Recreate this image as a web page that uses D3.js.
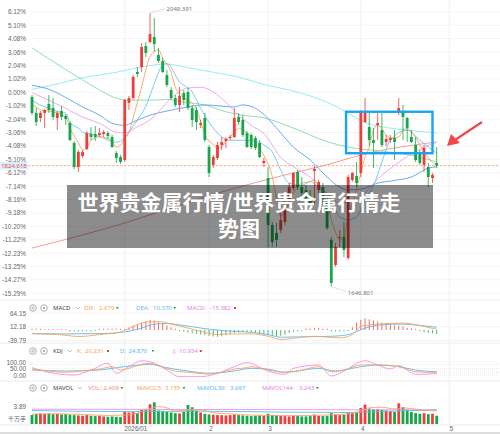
<!DOCTYPE html>
<html><head><meta charset="utf-8">
<script src="https://cdn.jsdelivr.net/npm/d3@7"></script>
<style>
body{margin:0;background:#fff}
svg{display:block;font-family:"Noto Sans","Noto Sans CJK SC",sans-serif}
</style>
</head><body>
<svg id="chart" width="500" height="434"></svg>
<script>
// ---------------- DATA ----------------
const basePrice = 1932.6;
const lastPrice = 1824.618;
const highLabel = "2049.391", lowLabel = "1646.801";
const highIdx = 28, lowIdx = 71;
const pctTicks = [6.12,5.10,4.08,3.06,2.04,1.02,0.00,-1.02,-2.04,-3.06,-4.08,-5.10,-6.12,-7.14,-8.16,-9.18,-10.20,-11.22,-12.23,-13.25,-14.27,-15.29];
const monthIdx = [22,42,56,78,99];
const monthLabels = ["2026/01","2","3","4","5"];
// highlighted range (candle index span, price span)
const boxIdx = [74.5, 95];
const boxPrice = [1843, 1904];

const openP = [1925.7,1902.2,1894.8,1902.2,1915.4,1909.5,1894.8,1905.1,1897.7,1887.4,
1858.0,1822.7,1838.9,1849.2,1871.3,1871.3,1869.8,1871.3,1872.7,1866.9,
1843.3,1837.4,1833.0,1916.9,1924.2,1962.5,1969.8,2000.7,2006.6,2013.9,
1987.5,1978.6,1958.0,1936.0,1924.2,1913.9,1931.6,1933.0,1909.5,1906.6,
1884.5,1894.8,1852.1,1825.7,1836.0,1855.1,1861.0,1865.4,1866.9,1896.3,
1891.9,1872.7,1869.8,1865.4,1858.0,1828.6,1806.6,1737.4,1725.7,1730.1,
1741.8,1774.2,1791.8,1815.4,1793.3,1788.9,1780.1,1816.8,1788.9,1793.3,
1769.8,1715.4,1678.6,1718.3,1719.8,1688.9,1803.6,1809.5,1813.9,1888.9,
1881.6,1862.4,1884.5,1877.1,1859.5,1862.4,1865.4,1902.2,1903.6,1894.8,
1866.9,1855.1,1843.3,1825.7,1822.7,1806.6,1828.6];
const closeP = [1902.2,1888.9,1902.2,1906.6,1906.6,1896.3,1902.2,1896.3,1893.3,1862.4,
1822.7,1844.8,1844.8,1872.7,1866.9,1866.9,1872.7,1874.2,1868.3,1852.1,
1836.0,1830.1,1921.3,1924.2,1955.1,1959.5,1999.2,1990.4,2018.3,2003.6,
1978.6,1962.5,1943.3,1924.2,1913.9,1927.2,1921.3,1909.5,1891.9,1888.9,
1887.4,1862.4,1813.9,1837.4,1855.1,1859.5,1863.9,1866.9,1894.8,1888.9,
1869.8,1852.1,1852.1,1850.7,1837.4,1831.6,1737.4,1712.4,1715.4,1744.8,
1765.4,1793.3,1813.9,1793.3,1784.5,1774.2,1769.8,1819.8,1800.7,1774.2,
1733.0,1652.1,1705.1,1719.8,1700.7,1808.0,1813.9,1799.2,1903.6,1903.6,
1862.4,1858.0,1887.4,1855.1,1863.9,1865.4,1859.5,1909.5,1896.3,1880.1,
1859.5,1833.0,1828.6,1850.7,1808.0,1811.0,1824.618];
const highP = [1928.6,1909.5,1905.1,1908.0,1928.6,1924.2,1905.1,1912.4,1900.7,1890.4,
1861.0,1847.7,1847.7,1875.7,1881.6,1883.0,1880.1,1877.1,1875.7,1869.8,
1846.3,1840.4,1922.7,1927.2,1958.0,1969.8,2005.1,2006.6,2049.391,2041.9,
1997.8,1983.0,1965.4,1940.4,1928.6,1940.4,1936.0,1938.9,1913.9,1911.0,
1891.9,1902.2,1855.1,1840.4,1859.5,1866.9,1866.9,1869.8,1909.5,1902.2,
1899.2,1875.7,1872.7,1868.3,1862.4,1836.0,1822.7,1741.8,1740.4,1755.1,
1778.6,1799.2,1815.4,1818.3,1808.0,1796.3,1788.9,1824.2,1803.6,1799.2,
1777.1,1719.8,1711.0,1730.1,1741.8,1811.0,1815.4,1830.1,1906.6,1924.2,
1902.2,1880.1,1902.2,1902.2,1869.8,1869.8,1877.1,1924.2,1913.9,1896.3,
1877.1,1866.9,1847.7,1855.1,1828.6,1813.9,1852.1];
const lowP = [1899.2,1883.0,1888.9,1880.1,1902.2,1891.9,1877.1,1891.9,1884.5,1861.0,
1819.8,1815.4,1836.0,1847.7,1862.4,1861.0,1866.9,1866.9,1863.9,1850.7,
1828.6,1827.1,1830.1,1906.6,1921.3,1955.1,1962.5,1984.5,2005.1,1991.9,
1975.7,1961.0,1940.4,1921.3,1911.0,1903.6,1913.9,1906.6,1881.6,1877.1,
1880.1,1859.5,1808.0,1821.3,1833.0,1847.7,1850.7,1862.4,1865.4,1884.5,
1866.9,1850.7,1849.2,1847.7,1836.0,1822.7,1705.1,1705.1,1705.1,1725.7,
1737.4,1763.9,1788.9,1788.9,1774.2,1766.8,1762.4,1766.8,1784.5,1766.8,
1730.1,1646.801,1675.7,1705.1,1690.4,1686.0,1800.7,1793.3,1808.0,1887.4,
1853.6,1821.3,1862.4,1852.1,1853.6,1858.0,1833.0,1899.2,1862.4,1859.5,
1858.0,1830.1,1825.7,1815.4,1793.3,1799.2,1821.3];
const volume = [2.52,2.7,2.75,2.7,2.75,2.65,2.7,2.6,2.65,2.55,
2.5,2.45,2.4,2.5,2.4,2.35,2.4,2.3,2.25,2.3,
2.25,2.2,3.0,2.9,2.95,2.8,3.3,3.45,4.15,4.45,
3.2,3.1,3.0,2.9,2.8,2.75,3.0,4.05,3.7,3.2,
2.9,2.7,2.6,2.55,2.5,2.5,2.45,2.5,2.6,2.5,
2.45,2.4,2.35,2.4,2.45,2.4,2.7,2.5,2.45,2.4,
2.35,2.3,2.4,2.35,2.3,2.3,2.35,2.6,2.4,2.35,
2.4,2.8,2.6,2.5,2.55,2.9,2.8,2.9,3.6,4.1,
3.5,3.4,3.4,3.3,3.2,3.1,3.0,4.3,3.7,3.35,
3.0,2.8,2.7,2.8,2.65,2.7,2.409];

// moving averages: [candle index, price]
const ma5 = [[0,1915],[2,1907],[5,1904],[8,1896],[9,1880],[11,1858],[12,1848],[13,1851],[14,1862],[16,1867],[18,1865],[19,1860],[20,1852],[21,1855],[22,1865],[23,1873],[24,1895],[25,1918],[26,1940],[27,1966],[28,1985],[30,1995],[31,1983],[33,1962],[34,1940],[36,1925],[37,1921],[39,1908],[40,1890],[41,1870],[43,1856],[44,1850],[45,1852],[46,1862],[48,1873],[49,1880],[50,1877],[52,1867],[54,1850],[55,1840],[57,1808],[58,1776],[59,1750],[60,1758],[62,1785],[64,1799],[65,1800],[67,1803],[68,1795],[70,1770],[71,1745],[72,1727],[73,1715],[74,1720],[75,1749],[77,1790],[78,1814],[79,1837],[80,1852],[81,1877],[82,1885],[84,1870],[85,1865],[87,1867],[88,1877],[89,1880],[90,1874],[91,1866],[93,1845],[94,1837],[95,1829],[96,1826]];
const ma10 = [[0,1921],[1,1917],[4,1909],[7,1903],[8,1902],[9,1888],[11,1880],[12,1874],[15,1870],[17,1865],[20,1859],[21,1861],[23,1874],[25,1892],[27,1912],[29,1945],[31,1973],[32,1975],[35,1948],[38,1933],[40,1909],[43,1880],[45,1867],[47,1862],[50,1862],[54,1859],[55,1855],[57,1845],[59,1818],[61,1799],[64,1796],[66,1801],[68,1793],[71,1774],[73,1749],[75,1745],[77,1749],[79,1774],[81,1795],[83,1830],[85,1862],[89,1877],[92,1862],[96,1843]];
const ma20 = [[0,1932],[4,1921],[8,1909],[12,1896],[16,1887],[20,1874],[22,1873],[25,1882],[28,1892],[30,1904],[33,1924],[37,1939],[40,1940],[43,1933],[46,1918],[49,1899],[52,1884],[55,1872],[59,1837],[62,1823],[66,1808],[70,1784],[73,1770],[75,1771],[78,1779],[82,1805],[86,1825],[90,1842],[96,1859]];
const ma30 = [[0,1943],[4,1937],[8,1925],[12,1911],[16,1899],[19,1887],[22,1884],[24,1889],[28,1899],[32,1905],[36,1910],[41,1914],[48,1911],[50,1914],[53,1909],[55,1900],[58,1880],[62,1852],[66,1833],[70,1808],[73,1793],[75,1789],[78,1790],[82,1799],[86,1803],[90,1808],[94,1821],[96,1823]];
const ma60 = [[0,1998],[4,1982],[8,1966],[12,1951],[16,1936],[20,1924],[23,1921],[28,1921],[32,1922],[36,1918],[41,1914],[46,1904],[50,1899],[55,1895],[62,1880],[70,1860],[75,1852],[83,1846],[90,1840],[96,1830]];
const ma120 = [[0,1937],[4,1942],[12,1954],[20,1962],[26,1970],[32,1974],[36,1970],[43,1962],[49,1955],[55,1944],[61,1936],[64,1931],[70,1918],[75,1902],[78,1891],[82,1883],[86,1879],[96,1873]];
const ma250 = [[0,1703.6],[12,1722.7],[22,1740.4],[30,1756.5],[45,1786],[60,1811],[70,1826],[78,1840.4],[96,1859.5]];

// MACD
const macdTicks = [64.15,12.18,-39.79];
const dif = [[0,-13.8],[4,-16],[8,-20],[11,-24.9],[16,-17.5],[21,-7.5],[24,13.3],[27,29.6],[30,31.9],[33,22.2],[37,7.4],[41,-9],[44,-17.5],[48,-14.9],[52,-14.9],[56,-23.8],[59,-36],[63,-29.8],[67,-23.8],[73,-29.8],[76,-17.5],[78,13.3],[82,22.2],[88,25.9],[93,13.3],[96,2.679]];
const dea = [[0,-13.8],[8,-14.9],[16,-13.8],[22,-7.5],[26,7.4],[29,22.2],[32,24.4],[36,17],[40,7.4],[44,-0.5],[48,-5.2],[52,-9],[56,-17.5],[59,-27.5],[63,-26.1],[71,-23.8],[75,-17.5],[79,7.4],[83,19.6],[88,22.2],[92,17],[96,10.37]];
const macdHist = [1.5,1.5,1.5,0.4,0.3,0.3,0.3,0.3,0.3,-3,
-5,-6,-5,-4,-3,-1.5,1.5,1.5,1.5,1.5,
1.5,1.5,4,9,16,22,28,33,38,36,
30,24,17,10,2,-2,-6,-10,-13,-15,
-17,-19,-22,-25,-26,-24,-20,-16,-12,-9,
-8,-8,-9,-11,-14,-17,-20,-23,-24,-22,
-18,-12,-7,-3,-1,2,5,7,7,5,
2,-3,-5,-6,-4,-1,10,28,38,44,
40,36,32,28,24,20,17,16,13,8,
3,0.5,-4,-8,-11,-13,-15.382];

// KDJ
const kdjTicks = [100,50,0];
const kLine = [[0,46],[4,31],[8,21],[12,31],[16,46],[19,64],[21,38],[23,51],[26,82],[28,90],[30,72],[33,38],[37,21],[42,8],[45,21],[48,46],[51,56],[52,64],[56,38],[60,21],[64,38],[68,64],[71,25],[74,38],[78,77],[82,77],[87,64],[91,25],[96,20.231]];
const dLine = [[0,38],[8,31],[16,38],[20,56],[24,72],[28,82],[32,56],[37,31],[42,13],[48,31],[52,51],[56,45],[60,21],[68,51],[72,31],[78,64],[82,77],[87,64],[91,38],[96,24.87]];
const jLine = [[0,56],[4,21],[10,0],[14,38],[18,90],[20,13],[23,64],[26,110],[28,102],[32,38],[35,-13],[40,-13],[44,13],[48,64],[51,95],[56,31],[60,5],[62,51],[68,77],[71,-8],[74,31],[79,110],[82,77],[85,46],[87,72],[91,5],[96,10.954]];

// MAVOL
const volTicks = [3.89];
const mavol5 = [[0,2.65],[6,2.7],[12,2.6],[18,2.45],[22,2.5],[25,2.8],[28,3.5],[30,3.8],[32,3.6],[34,3.1],[37,3.3],[40,3.3],[43,2.85],[47,2.7],[52,2.5],[60,2.45],[66,2.45],[71,2.55],[75,2.7],[78,3.1],[80,3.6],[83,3.7],[86,3.45],[88,3.6],[90,3.5],[93,3.25],[96,3.155]];
const mavol30 = [[0,3.2],[20,3.05],[40,3.1],[60,2.95],[75,2.9],[85,3.1],[96,3.3]];
const mavol144 = [[0,3.4],[48,3.35],[96,3.3]];

// legend rows: [label, value, labelX, valueX, markX, markUp]
const macdLegend = [["DIF:","2.679",84,99,117,false],["DEA:","10.370",136,153,174,false],["MACD:","-15.382",187,210,235,true]];
const kdjLegend = [["K:","20.231",77,85,108,true],["D:","24.870",120,126,153,false],["J:","10.954",173,179,195,true]];
const volLegend = [["VOL:","2.409",88,99,119,false],["MAVOL5:","3.155",137,159,184,false],["MAVOL30:","3.697",197,230,null,false],["MAVOL144:","3.243",262,299,317,false]];

const titleLines = ["世界贵金属行情/世界贵金属行情走","势图"];

// ---------------- DRAW ----------------
const svg = d3.select("#chart");
const W = 500;
const UP = "#ef3e3a", DOWN = "#17a64a";
const C = {ma5:"#f6a55e", ma10:"#6cc4ef", ma20:"#ef9ee9", ma30:"#5e9ff0", ma60:"#86d9a7", ma120:"#8be9f3", ma250:"#f19191"};
const ORANGE = "#f6a55e", BLUE = "#5eb8ee", PINK = "#e482e6";

const x = d3.scaleLinear().domain([0,96]).range([32,436.7]);
const y = d3.scaleLinear().domain([1627.1,2068.35]).range([300,0]);
const pctToPrice = p => basePrice*(1+p/100);
const bw = 2.8;

// grid
const grid = svg.append("g");
grid.selectAll("line.h").data(pctTicks).join("line")
  .attr("x1",30).attr("x2",W).attr("y1",d=>y(pctToPrice(d))).attr("y2",d=>y(pctToPrice(d)))
  .attr("stroke","#f3f3f3").attr("stroke-width",0.8);
grid.selectAll("line.v").data(monthIdx).join("line")
  .attr("x1",d=>x(d)).attr("x2",d=>x(d)).attr("y1",0).attr("y2",425)
  .attr("stroke","#eeeeee").attr("stroke-width",0.8);
[300,343,381,425].forEach(v=>svg.append("line").attr("x1",0).attr("x2",W).attr("y1",v).attr("y2",v).attr("stroke","#ececec"));
svg.append("line").attr("x1",0).attr("x2",W).attr("y1",433).attr("y2",433).attr("stroke","#bbb");

// y axis
const yAxis = d3.axisLeft(y).tickValues(pctTicks.map(pctToPrice)).tickSize(0).tickPadding(0)
  .tickFormat((d,i)=>pctTicks[i].toFixed(2)+"%");
const ya = svg.append("g").attr("transform","translate(26,0)").call(yAxis);
ya.select(".domain").remove();
ya.selectAll("text").attr("font-size",6.4).attr("fill","#666");

// last price line
svg.append("line").attr("x1",28).attr("x2",W).attr("y1",y(lastPrice)).attr("y2",y(lastPrice))
  .attr("stroke","#f7a777").attr("stroke-width",0.9).attr("stroke-dasharray","2.5,1.5");
svg.append("rect").attr("x",0).attr("y",y(lastPrice)-3.8).attr("width",28).attr("height",7.6).attr("fill","#dcedfb");
svg.append("text").attr("x",14).attr("y",y(lastPrice)+2.1).attr("text-anchor","middle")
  .attr("font-size",6).attr("fill","#e0504a").text(lastPrice.toFixed(3));

// MA lines
const lineGen = (sx, sy) => d3.line().x(d=>sx(d[0])).y(d=>sy(d[1])).curve(d3.curveMonotoneX);
const mainLine = lineGen(x,y);
[[ma250,C.ma250],[ma120,C.ma120],[ma60,C.ma60],[ma30,C.ma30],[ma20,C.ma20],[ma10,C.ma10],[ma5,C.ma5]].forEach(([d,c])=>{
  svg.append("path").attr("d",mainLine(d)).attr("fill","none").attr("stroke",c).attr("stroke-width",0.9);
});

// candles
const idx = d3.range(openP.length);
const cg = svg.append("g");
cg.selectAll("line").data(idx).join("line")
  .attr("x1",i=>x(i)).attr("x2",i=>x(i)).attr("y1",i=>y(highP[i])).attr("y2",i=>y(lowP[i]))
  .attr("stroke",i=>closeP[i]>=openP[i]?UP:DOWN).attr("stroke-width",0.8);
cg.selectAll("rect").data(idx).join("rect")
  .attr("x",i=>x(i)-bw/2).attr("width",bw)
  .attr("y",i=>y(Math.max(openP[i],closeP[i])))
  .attr("height",i=>Math.max(0.8,Math.abs(y(openP[i])-y(closeP[i]))))
  .attr("fill",i=>closeP[i]>=openP[i]?UP:DOWN);

// high / low labels
svg.append("line").attr("x1",x(highIdx)).attr("y1",y(highP[highIdx])).attr("x2",x(highIdx)+15).attr("y2",y(highP[highIdx])-4).attr("stroke","#cfcfe8").attr("stroke-width",0.7);
svg.append("text").attr("x",x(highIdx)+16.5).attr("y",y(highP[highIdx])-2).attr("font-size",6).attr("fill","#777").text(highLabel);
svg.append("line").attr("x1",x(lowIdx)).attr("y1",y(lowP[lowIdx])).attr("x2",x(lowIdx)+15).attr("y2",y(lowP[lowIdx])+5).attr("stroke","#cfcfe8").attr("stroke-width",0.7);
svg.append("text").attr("x",x(lowIdx)+16.5).attr("y",y(lowP[lowIdx])+8).attr("font-size",6).attr("fill","#777").text(lowLabel);

// highlight box and arrow (annotations)
svg.append("rect").attr("x",x(boxIdx[0])).attr("y",y(boxPrice[1])).attr("width",x(boxIdx[1])-x(boxIdx[0])).attr("height",y(boxPrice[0])-y(boxPrice[1]))
  .attr("fill","none").attr("stroke","#1aa3f5").attr("stroke-width",2.4);
svg.append("path").attr("d","M482,122 L455,140").attr("stroke","#f04848").attr("stroke-width",2.2);
svg.append("path").attr("d","M447,146 L451,134 L460,143 Z").attr("fill","#f04848");

// ---------- MACD ----------
const ym = d3.scaleLinear().domain([-39.79,64.15]).range([340.5,313]);
const yma = svg.append("g").attr("transform","translate(26,0)").call(d3.axisLeft(ym).tickValues(macdTicks).tickSize(0).tickPadding(0).tickFormat(d=>d.toFixed(2)));
yma.select(".domain").remove();
yma.selectAll("text").attr("font-size",6.4).attr("fill","#666");
svg.selectAll("line.mh").data(macdTicks).join("line").attr("x1",30).attr("x2",W).attr("y1",d=>ym(d)).attr("y2",d=>ym(d)).attr("stroke","#f3f3f3");
svg.append("g").selectAll("line").data(idx).join("line")
  .attr("x1",i=>x(i)).attr("x2",i=>x(i)).attr("y1",ym(0)).attr("y2",i=>ym(macdHist[i]) + (Math.abs(ym(macdHist[i])-ym(0))<0.8?(macdHist[i]>=0?-0.8:0.8):0))
  .attr("stroke",i=>macdHist[i]>=0?UP:DOWN).attr("stroke-width",0.9).attr("opacity",0.85);
svg.append("path").attr("d",lineGen(x,ym)(dea)).attr("fill","none").attr("stroke",BLUE).attr("stroke-width",0.9);
svg.append("path").attr("d",lineGen(x,ym)(dif)).attr("fill","none").attr("stroke",ORANGE).attr("stroke-width",0.9);

// ---------- KDJ ----------
const yk = d3.scaleLinear().domain([0,100]).range([375,362]);
const yka = svg.append("g").attr("transform","translate(26,0)").call(d3.axisLeft(yk).tickValues(kdjTicks).tickSize(0).tickPadding(0).tickFormat(d=>d.toFixed(2)));
yka.select(".domain").remove();
yka.selectAll("text").attr("font-size",6.4).attr("fill","#666");
svg.selectAll("line.kh").data([100,80,50,20,0]).join("line").attr("x1",30).attr("x2",W).attr("y1",d=>yk(d)).attr("y2",d=>yk(d))
  .attr("stroke","#d8d8d8").attr("stroke-width",0.5).attr("stroke-dasharray","1,1");
svg.append("path").attr("d",lineGen(x,yk)(jLine)).attr("fill","none").attr("stroke","#ef8ee9").attr("stroke-width",0.9);
svg.append("path").attr("d",lineGen(x,yk)(dLine)).attr("fill","none").attr("stroke",BLUE).attr("stroke-width",0.9);
svg.append("path").attr("d",lineGen(x,yk)(kLine)).attr("fill","none").attr("stroke",ORANGE).attr("stroke-width",0.9);

// ---------- VOLUME ----------
const yv = d3.scaleLinear().domain([1.145,3.89]).range([424,406]);
const yva = svg.append("g").attr("transform","translate(26,0)").call(d3.axisLeft(yv).tickValues(volTicks).tickSize(0).tickPadding(0).tickFormat(d=>d.toFixed(2)));
yva.select(".domain").remove();
yva.selectAll("text").attr("font-size",6.4).attr("fill","#666");
svg.append("text").attr("x",26).attr("y",420.5).attr("text-anchor","end").attr("font-size",6).attr("fill","#666").text("千万手");
svg.append("g").selectAll("rect").data(idx).join("rect")
  .attr("x",i=>x(i)-bw/2).attr("width",bw).attr("y",i=>yv(volume[i])).attr("height",i=>424-yv(volume[i]))
  .attr("fill",i=>closeP[i]>=openP[i]?UP:DOWN);
svg.append("path").attr("d",lineGen(x,yv)(mavol144)).attr("fill","none").attr("stroke","#ef8ee9").attr("stroke-width",0.9);
svg.append("path").attr("d",lineGen(x,yv)(mavol30)).attr("fill","none").attr("stroke",BLUE).attr("stroke-width",0.9);
svg.append("path").attr("d",lineGen(x,yv)(mavol5)).attr("fill","none").attr("stroke",ORANGE).attr("stroke-width",0.9);

// x axis
const xa = svg.append("g").attr("transform","translate(0,425)").call(d3.axisBottom(x).tickValues(monthIdx).tickSize(0).tickPadding(2).tickFormat((d,i)=>monthLabels[i]));
xa.select(".domain").remove();
xa.selectAll("text").attr("font-size",6.4).attr("fill","#666").attr("dy","0.6em")
  .attr("text-anchor",(d,i)=>i===0?"start":"middle").attr("dx",(d,i)=>i===0?-1:1.5);

// ---------- headers ----------
const HF = 6;
function icons(cy){
  svg.append("circle").attr("cx",33).attr("cy",cy).attr("r",3.3).attr("fill","none").attr("stroke","#999").attr("stroke-width",0.8);
  svg.append("circle").attr("cx",33).attr("cy",cy).attr("r",1.2).attr("fill","none").attr("stroke","#999").attr("stroke-width",0.7);
  svg.append("circle").attr("cx",44).attr("cy",cy).attr("r",3.3).attr("fill","none").attr("stroke","#999").attr("stroke-width",0.8);
  svg.append("circle").attr("cx",44).attr("cy",cy).attr("r",1.1).attr("fill","#999");
}
function chevron(cx,cy){
  svg.append("path").attr("d",`M${cx-2},${cy-1} L${cx},${cy+1} L${cx+2},${cy-1}`).attr("fill","none").attr("stroke","#8aa").attr("stroke-width",0.7);
}
function txt(xx,yy,t,c){ return svg.append("text").attr("x",xx).attr("y",yy).attr("font-size",HF).attr("fill",c).text(t); }
function mark(xx,yy,up){
  if(up) svg.append("rect").attr("x",xx-1).attr("y",yy-1).attr("width",2).attr("height",2).attr("fill",UP);
  else svg.append("path").attr("d",`M${xx-1.4},${yy-1} L${xx+1.4},${yy-1} L${xx},${yy+1.2} Z`).attr("fill",DOWN);
}
function legendRow(cy,name,chevX,rows,colors){
  icons(cy); txt(53,cy+2.1,name,"#444"); chevron(chevX,cy);
  rows.forEach((r,k)=>{
    const l = txt(r[2],cy+2.1,r[0],colors[k]);
    const vx = Math.max(r[3], r[2] + l.node().getComputedTextLength() + 2.5);
    const v = txt(vx,cy+2.1,r[1],colors[k]);
    if(r[4]!=null) mark(Math.max(r[4], vx + v.node().getComputedTextLength() + 3), cy, r[5]);
  });
}
legendRow(308,"MACD",78,macdLegend,[ORANGE,BLUE,PINK]);
legendRow(351,"KDJ",70,kdjLegend,[ORANGE,BLUE,PINK]);
legendRow(388,"MAVOL",80,volLegend,["#f28a8a",ORANGE,BLUE,PINK]);

// ---------- title overlay ----------
svg.append("rect").attr("x",67).attr("y",185).attr("width",366).attr("height",63).attr("fill","rgba(0,0,0,0.45)");
const tt = svg.append("text").attr("text-anchor","middle").attr("fill","#fff").attr("font-weight","bold")
  .attr("font-size",21).attr("font-family","'Noto Sans CJK SC'");
titleLines.forEach((l,i)=>tt.append("tspan").attr("x",239).attr("y",210+i*25.5).text(l));
</script>
</body></html>
